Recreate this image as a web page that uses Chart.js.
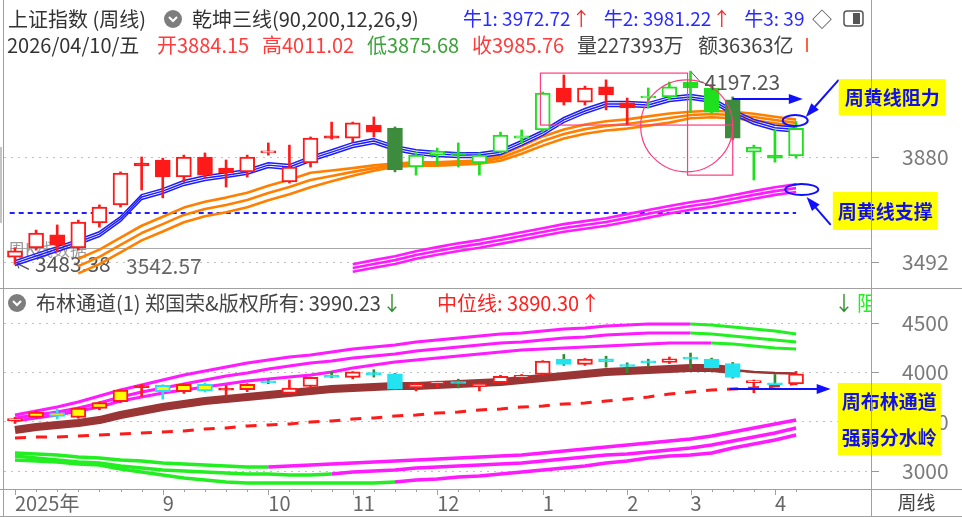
<!DOCTYPE html>
<html>
<head>
<meta charset="utf-8">
<script src="https://cdn.jsdelivr.net/npm/chart.js@4.4.1/dist/chart.umd.min.js"></script>
<style>
  html, body { margin: 0; padding: 0; background: #fff; }
  #wrap { position: relative; width: 962px; height: 517px; }
</style>
</head>
<body>
<div id="wrap"><canvas id="kline" width="962" height="517"></canvas></div>
<script>
// Weekly bars, 2025-07-18 .. 2026-04-10
const weeks = ['2025-07-18', '2025-07-25', '2025-08-01', '2025-08-08', '2025-08-15', '2025-08-22', '2025-08-29',
    '2025-09-05', '2025-09-12', '2025-09-19', '2025-09-26', '2025-09-30', '2025-10-10', '2025-10-17', '2025-10-24',
    '2025-10-31', '2025-11-07', '2025-11-14', '2025-11-21', '2025-11-28', '2025-12-05', '2025-12-12', '2025-12-19',
    '2025-12-26', '2025-12-31', '2026-01-09', '2026-01-16', '2026-01-23', '2026-01-30', '2026-02-06', '2026-02-13',
    '2026-02-27', '2026-03-06', '2026-03-13', '2026-03-20', '2026-03-27', '2026-04-03', '2026-04-10'];

const open = [3510, 3544, 3592, 3544, 3636, 3703, 3858, 3869, 3806, 3880, 3839, 3825, 3895, 3788, 3858, 3958, 3950, 3998, 3987,
    3843, 3887, 3895, 3858, 3898, 3950, 3980, 4135, 4083, 4139, 4080, 4098, 4102, 4157, 4135, 4091, 3898, 3887, 3884.15];
const high = [3545, 3610, 3629, 3647, 3703, 3825, 3880, 3876, 3887, 3895, 3869, 3887, 3932, 3924, 3954, 4009, 4009, 4028, 3991,
    3898, 3913, 3932, 3895, 3972, 3980, 4120, 4183, 4142, 4165, 4098, 4135, 4157, 4197.23, 4146, 4102, 3924, 3980, 4011.02];
const low = [3483.38, 3536, 3529, 3536, 3621, 3695, 3758, 3729, 3788, 3802, 3769, 3806, 3887, 3784, 3843, 3946, 3935, 3954, 3825,
    3813, 3850, 3843, 3813, 3895, 3932, 3972, 4072, 4072, 4054, 3998, 4061, 4091, 4043, 4043, 3943, 3795, 3861, 3875.68];
const close = [3533, 3599, 3555, 3640, 3695, 3821, 3847, 3806, 3880, 3813, 3821, 3880, 3898, 3843, 3950, 3950, 4006, 3972, 3832,
    3887, 3902, 3888, 3887, 3961, 3958, 4116, 4083, 4135, 4109, 4061, 4102, 4139, 4135, 4046, 3950, 3917, 3876, 3985.76];
const volWan = 227393, amtYi = 36363;

// 乾坤三线: blue (牛1-3), orange and magenta triples
const bull1 = [3479, 3505, 3531, 3557, 3586, 3642, 3723, 3745, 3775, 3793, 3804, 3816, 3841, 3834, 3864, 3889, 3915, 3930, 3904,
    3889, 3882, 3878, 3878, 3889, 3923, 3960, 4008, 4041, 4067, 4067, 4063, 4085, 4093, 4082, 4037, 4001, 3979, 3972.72];
const bull2 = [3488, 3514, 3540, 3566, 3595, 3651, 3732, 3754, 3784, 3802, 3813, 3825, 3850, 3843, 3873, 3898, 3924, 3939, 3913,
    3898, 3891, 3887, 3887, 3898, 3932, 3969, 4017, 4050, 4076, 4076, 4072, 4094, 4102, 4091, 4046, 4010, 3988, 3981.22];
const bull3 = [3497, 3523, 3549, 3575, 3604, 3660, 3741, 3763, 3793, 3811, 3822, 3834, 3859, 3852, 3882, 3907, 3933, 3948, 3922,
    3907, 3900, 3896, 3896, 3907, 3941, 3978, 4026, 4059, 4085, 4085, 4081, 4103, 4111, 4100, 4055, 4019, 3997, 3990];
const gold1 = [null, null, null, 3504, 3538, 3582, 3626, 3659, 3693, 3715, 3730, 3748, 3774, 3796, 3822, 3830, 3839, 3849, 3856,
    3860, 3860, 3864, 3867, 3886, 3920, 3956, 3982, 4000, 4012, 4019, 4030, 4041, 4047, 4051, 4047, 4040, 4029, 4018];
const gold2 = [null, null, null, 3477, 3511, 3555, 3599, 3632, 3666, 3688, 3703, 3721, 3747, 3769, 3795, 3810, 3825, 3839, 3850,
    3854, 3854, 3858, 3861, 3876, 3906, 3939, 3965, 3983, 3995, 4002, 4013, 4024, 4035, 4039, 4035, 4028, 4017, 4006];
const gold3 = [null, null, null, 3450, 3484, 3528, 3572, 3605, 3639, 3661, 3676, 3694, 3720, 3742, 3768, 3790, 3811, 3829, 3844,
    3848, 3848, 3852, 3855, 3866, 3892, 3922, 3948, 3966, 3978, 3985, 3996, 4007, 4023, 4027, 4023, 4016, 4005, 3994];
const pink1 = [null, null, null, null, null, null, null, null, null, null, null, null, null, null, null, null,
    3484, 3499, 3513, 3532, 3547, 3561, 3573, 3587, 3602, 3617, 3632, 3643, 3654, 3669, 3684, 3699, 3713, 3724, 3739, 3754, 3768, 3779];
const pink2 = [null, null, null, null, null, null, null, null, null, null, null, null, null, null, null, null,
    3470, 3485, 3499, 3518, 3533, 3547, 3559, 3573, 3588, 3603, 3618, 3629, 3640, 3655, 3670, 3685, 3699, 3710, 3725, 3740, 3754, 3765];
const pink3 = [null, null, null, null, null, null, null, null, null, null, null, null, null, null, null, null,
    3456, 3471, 3485, 3504, 3519, 3533, 3545, 3559, 3574, 3589, 3604, 3615, 3626, 3641, 3656, 3671, 3685, 3696, 3711, 3726, 3740, 3751];
const supportLevel = 3673;
const refLevel = 3542.57;

// 布林通道
const bollUp1 = [3569, 3610, 3650, 3701, 3762, 3823, 3873, 3924, 3975, 4015, 4056, 4096, 4127, 4157, 4177, 4208, 4238, 4259, 4279,
    4309, 4330, 4350, 4370, 4390, 4401, 4421, 4441, 4451, 4472, 4482, 4492, 4492, 4492, 4482, 4461, 4441, 4421, 4390];
const bollUp2 = [3539, 3569, 3599, 3640, 3691, 3752, 3802, 3843, 3883, 3924, 3965, 3995, 4035, 4066, 4096, 4117, 4147, 4167, 4188,
    4218, 4238, 4259, 4279, 4299, 4309, 4330, 4350, 4360, 4380, 4390, 4401, 4401, 4401, 4390, 4370, 4350, 4330, 4309];
const bollUp3 = [3508, 3539, 3569, 3610, 3650, 3711, 3752, 3792, 3823, 3853, 3883, 3914, 3934, 3954, 3975, 4005, 4046, 4076, 4106,
    4127, 4147, 4167, 4188, 4208, 4228, 4238, 4249, 4259, 4269, 4279, 4289, 4299, 4299, 4299, 4289, 4269, 4249, 4238];
const bollMid = [3417, 3447, 3468, 3488, 3518, 3569, 3610, 3650, 3681, 3711, 3731, 3752, 3772, 3792, 3812, 3833, 3843, 3853, 3863,
    3863, 3873, 3883, 3894, 3904, 3924, 3944, 3965, 3985, 4005, 4015, 4025, 4035, 4046, 4046, 4025, 4005, 3995, 3990.23];
const midLine = [3336, 3346, 3346, 3356, 3366, 3376, 3387, 3397, 3407, 3427, 3437, 3458, 3468, 3478, 3498, 3508, 3528, 3539, 3559,
    3569, 3589, 3599, 3620, 3630, 3650, 3660, 3681, 3691, 3711, 3731, 3752, 3782, 3802, 3823, 3833, 3843, 3862, 3890.30];
const bollLow1 = [3184, 3174, 3163, 3143, 3133, 3113, 3103, 3082, 3072, 3062, 3052, 3042, 3042, 3052, 3062, 3072, 3082, 3092, 3103,
    3113, 3123, 3133, 3143, 3153, 3163, 3184, 3204, 3224, 3245, 3265, 3285, 3306, 3326, 3356, 3397, 3437, 3478, 3518];
const bollLow2 = [3153, 3133, 3113, 3092, 3082, 3052, 3032, 3011, 3001, 2991, 2981, 2970, 2970, 2960, 2960, 2970, 2991, 3001, 3011,
    3032, 3042, 3052, 3062, 3072, 3082, 3103, 3123, 3143, 3163, 3174, 3194, 3214, 3234, 3265, 3306, 3346, 3387, 3437];
const bollLow3 = [3113, 3103, 3092, 3072, 3062, 3021, 2991, 2960, 2930, 2910, 2889, 2879, 2879, 2879, 2879, 2879, 2879, 2879, 2889,
    2910, 2920, 2940, 2950, 2970, 2991, 3011, 3032, 3052, 3082, 3103, 3133, 3153, 3163, 3184, 3234, 3275, 3316, 3366];

const topTicks = [3880, 3492];
const bottomTicks = [4500, 4000, 3500, 3000];

// candle colour codes (r red, g green, d dark green) and bottom panel border+fill codes
const topTone = 'rrrrrrrrrrrrrrrrrrdgggggggrrrrggggdggg'.split('');
const botTone = ['ry', 'ry', 'cy', 'ry', 'ry', 'ry', 'rr', 'cy', 'ry', 'cy', 'rr', 'ry', 'cc', 'rw', 'rw', 'cc', 'rw', 'cc', 'cc',
    'rw', 'rw', 'cc', 'rw', 'rw', 'rw', 'rw', 'cc', 'rw', 'cc', 'cc', 'cc', 'rw', 'cc', 'cc', 'cc', 'rw', 'cc', 'rw'];

const PAL = { r: '#ff1a1a', g: '#1ee01e', d: '#3d8b3d', c: '#22e3ef', y: '#ffff00', w: '#ffffff', stem: '#2e8b2e' };
const FONT = '"Noto Sans CJK SC", "Noto Sans", sans-serif';

// year label first, then month numbers where the month changes (none squeezed next to the year label)
const tickText = weeks.map((w, i) => {
    if (i === 0) return w.slice(0, 4) + '年';
    if (i < 4) return '';
    return w.slice(5, 7) !== weeks[i - 1].slice(5, 7) ? String(+w.slice(5, 7)) : '';
});

const pts = arr => arr.map((v, i) => ({ x: i, y: v }));

function line(data, color, width, axis, order, extra) {
    return Object.assign({
        type: 'line', data: pts(data), borderColor: color, borderWidth: width, pointRadius: 0,
        yAxisID: axis, order: order, tension: 0, borderJoinStyle: 'round', spanGaps: false
    }, extra || {});
}

function switchColor(from, to, at) {
    return { borderColor: ctx => ctx.p0DataIndex >= at ? to : from };
}

// top panel candles
const topCol = topTone.map(t => PAL[t]);
const topBody = {
    type: 'bar', data: weeks.map((w, i) => ({ x: i, y: [open[i], close[i]] })),
    backgroundColor: topCol.map((c, i) => close[i] >= open[i] ? '#ffffff' : c),
    borderColor: topCol, borderWidth: 2, borderSkipped: false, barThickness: 15, minBarLength: 2,
    grouped: false, yAxisID: 'y', order: 0
};
const topWick = {
    type: 'bar', data: weeks.map((w, i) => ({ x: i, y: [low[i], high[i]] })),
    backgroundColor: topCol, borderWidth: 0, barThickness: 2, grouped: false, yAxisID: 'y', order: 1
};

// bottom panel candles
const botBorder = botTone.map(t => t[0] === 'r' ? PAL.r : PAL.c);
const botFill = botTone.map(t => ({ y: PAL.y, w: PAL.w, c: PAL.c, r: PAL.r })[t[1]]);
const botBody = {
    type: 'bar', data: weeks.map((w, i) => ({ x: i, y: [open[i], close[i]] })),
    backgroundColor: botFill, borderColor: botBorder, borderWidth: 2, borderSkipped: false, barThickness: 15,
    minBarLength: 2, grouped: false, yAxisID: 'y2', order: 0
};
const botWick = {
    type: 'bar', data: weeks.map((w, i) => ({ x: i, y: [low[i], high[i]] })),
    backgroundColor: botTone.map((t, i) => t === 'cc' ? PAL.stem : botBorder[i]),
    borderWidth: 0, barThickness: 2, grouped: false, yAxisID: 'y2', order: 1
};

const datasets = [
    topBody, topWick, botBody, botWick,
    line(bull1, '#1c1cff', 1.5, 'y', 2),
    line(bull2, '#1c1cff', 1.5, 'y', 2),
    line(bull3, '#1c1cff', 1.5, 'y', 2),
    line(gold1, '#ff8000', 2.6, 'y', 3),
    line(gold2, '#ff8000', 2.6, 'y', 3),
    line(gold3, '#ff8000', 2.6, 'y', 3),
    line(pink1, '#ff1aff', 2.6, 'y', 3),
    line(pink2, '#ff1aff', 2.6, 'y', 3),
    line(pink3, '#ff1aff', 2.6, 'y', 3),
    line(bollUp1, '#ff1aff', 3, 'y2', 3, { segment: switchColor('#ff1aff', '#22ee22', 32) }),
    line(bollUp2, '#ff1aff', 3, 'y2', 3, { segment: switchColor('#ff1aff', '#22ee22', 32) }),
    line(bollUp3, '#ff1aff', 3, 'y2', 3, { segment: switchColor('#ff1aff', '#22ee22', 33) }),
    line(bollLow1, '#22ee22', 3.5, 'y2', 3, { segment: switchColor('#22ee22', '#ff1aff', 12) }),
    line(bollLow2, '#22ee22', 3.5, 'y2', 3, { segment: switchColor('#22ee22', '#ff1aff', 15) }),
    line(bollLow3, '#22ee22', 3.5, 'y2', 3, { segment: switchColor('#22ee22', '#ff1aff', 18) }),
    line(bollMid, '#993535', 8, 'y2', 2, { segment: { borderWidth: ctx => ctx.p0DataIndex >= 34 ? 2.5 : 8 } }),
    line(midLine, '#ff1a1a', 3, 'y2', 2, { borderDash: [11, 10], borderCapStyle: 'butt' })
];

// annotations placed in data units: [index, value]
const notes = {
    rectA: [24.89, 4190, 31.86, 3998],
    rectB: [31.86, 3998, 34.0, 3813],
    ring: [31.82, 3995, 2.18],
    resist: [36.96, 4015], support: [37.27, 3760],
    arrowR: [34.0, 4094, 37.32, 4094],
    arrowR2: [39.02, 4165, 37.46, 4028],
    arrowS: [38.64, 3629, 37.5, 3732],
    boxR: [39.02, 4168, '周黄线阻力'],
    boxS: [38.74, 3751, '周黄线支撑'],
    arrowB: [33.85, 3833, 38.64, 3833],
    boxB: [38.98, 3894, '周布林通道', '强弱分水岭']
};

function arrow(ctx, x1, y1, x2, y2) {
    const a = Math.atan2(y2 - y1, x2 - x1), c = Math.cos(a), s = Math.sin(a);
    ctx.beginPath(); ctx.moveTo(x1, y1); ctx.lineTo(x2 - 10 * c, y2 - 10 * s); ctx.stroke();
    ctx.beginPath();
    ctx.moveTo(x2, y2);
    ctx.lineTo(x2 - 14 * c + 5 * s, y2 - 14 * s - 5 * c);
    ctx.lineTo(x2 - 14 * c - 5 * s, y2 - 14 * s + 5 * c);
    ctx.closePath(); ctx.fill();
}

function txt(ctx, s, x, y, color, size, weight) {
    ctx.font = (weight || '') + ' ' + (size || 20) + 'px ' + FONT;
    ctx.fillStyle = color;
    ctx.fillText(s, x, y);
    return x + ctx.measureText(s).width;
}

function chevronIcon(ctx, cx, cy) {
    ctx.fillStyle = '#7d7d7d';
    ctx.beginPath(); ctx.arc(cx, cy, 9, 0, Math.PI * 2); ctx.fill();
    ctx.strokeStyle = '#fff'; ctx.lineWidth = 2;
    ctx.beginPath(); ctx.moveTo(cx - 4, cy - 2); ctx.lineTo(cx, cy + 2); ctx.lineTo(cx + 4, cy - 2); ctx.stroke();
}

// keep the plot area where the reference has it: no label overhang padding
function noPad(s) {
    s.paddingTop = 0; s.paddingBottom = 0; s.paddingLeft = 0; s.paddingRight = 0;
}

const overlay = {
    id: 'overlay',
    beforeDatasetsDraw(chart) {
        const { ctx, chartArea: a, scales: { x, y } } = chart;
        ctx.save();
        ctx.textBaseline = 'middle';
        // reference level line
        const yl = Math.round(y.getPixelForValue(refLevel)) + 0.5;
        ctx.strokeStyle = '#a8a8a8'; ctx.lineWidth = 1;
        ctx.beginPath(); ctx.moveTo(a.left + 6, yl); ctx.lineTo(a.right, yl); ctx.stroke();
        txt(ctx, '周K线数据', 8, yl + 1, '#9a9a9a', 17);
        // weekly support level (blue dashed)
        const yd = y.getPixelForValue(supportLevel);
        ctx.strokeStyle = '#2020ff'; ctx.lineWidth = 2; ctx.setLineDash([5, 4]);
        ctx.beginPath(); ctx.moveTo(x.getPixelForValue(-0.25), yd); ctx.lineTo(x.getPixelForValue(37), yd); ctx.stroke();
        ctx.setLineDash([]);
        // low marker
        const lx = x.getPixelForValue(0), ly = y.getPixelForValue(low[0]);
        ctx.strokeStyle = '#555'; ctx.lineWidth = 1.2;
        ctx.beginPath(); ctx.moveTo(lx + 14, ly + 5); ctx.lineTo(lx + 2, ly - 1); ctx.stroke();
        ctx.beginPath(); ctx.moveTo(lx + 2, ly - 1); ctx.lineTo(lx + 7, ly - 1); ctx.moveTo(lx + 2, ly - 1); ctx.lineTo(lx + 4, ly + 4); ctx.stroke();
        txt(ctx, low[0].toFixed(2), lx + 20, ly, '#555', 21);
        txt(ctx, refLevel.toFixed(2), 126, ly + 2, '#666', 21);
        ctx.restore();
    },
    afterDraw(chart) {
        const { ctx, chartArea: a, scales: { x, y, y2 } } = chart;
        const W = chart.width, H = chart.height;
        const P = (i, v) => [x.getPixelForValue(i), y.getPixelForValue(v)];
        const P2 = (i, v) => [x.getPixelForValue(i), y2.getPixelForValue(v)];
        ctx.save();
        ctx.textBaseline = 'middle';

        // pink study drawings
        ctx.strokeStyle = '#ff3d7f'; ctx.lineWidth = 1.2;
        [notes.rectA, notes.rectB].forEach(r => {
            const [x1, y1] = P(r[0], r[1]), [x2, y2p] = P(r[2], r[3]);
            ctx.strokeRect(x1, y1, x2 - x1, y2p - y1);
        });
        const [cx, cy] = P(notes.ring[0], notes.ring[1]);
        const rr = x.getPixelForValue(notes.ring[2]) - x.getPixelForValue(0);
        ctx.beginPath(); ctx.arc(cx, cy, rr, 0, Math.PI * 2); ctx.stroke();

        // high label
        const [hx, hy] = P(32, high[32]);
        ctx.strokeStyle = '#555'; ctx.lineWidth = 1;
        ctx.beginPath(); ctx.moveTo(hx + 1, hy + 1); ctx.lineTo(hx + 10, hy + 11); ctx.lineTo(hx + 13, hy + 11); ctx.stroke();
        txt(ctx, high[32].toFixed(2), hx + 14, hy + 11, '#555', 21);

        // blue arrows and ellipses
        ctx.strokeStyle = '#1010ff'; ctx.fillStyle = '#1010ff'; ctx.lineWidth = 2;
        [notes.arrowR, notes.arrowR2, notes.arrowS].forEach(n => {
            const [x1, y1] = P(n[0], n[1]), [x2, y2p] = P(n[2], n[3]);
            arrow(ctx, x1, y1, x2, y2p);
        });
        {
            const [x1, y1] = P2(notes.arrowB[0], notes.arrowB[1]), [x2, y2p] = P2(notes.arrowB[2], notes.arrowB[3]);
            arrow(ctx, x1, y1, x2, y2p);
        }
        [[notes.resist, 12.5], [notes.support, 16.5]].forEach(([n, rx]) => {
            const [ex, ey] = P(n[0], n[1]);
            ctx.beginPath(); ctx.ellipse(ex, ey, rx, 5.5, 0, 0, Math.PI * 2); ctx.stroke();
        });

        // yellow callouts
        const box = (bx, by, w, h, lines) => {
            ctx.fillStyle = '#ffff00';
            ctx.fillRect(bx, by, w, h);
            ctx.textAlign = 'center';
            lines.forEach((s, k) => txt(ctx, s, bx + w / 2, by + (k + 0.5) * h / lines.length + 1, '#1010ee', 19, 'bold'));
            ctx.textAlign = 'left';
        };
        { const [bx, by] = P(notes.boxR[0], notes.boxR[1]); box(bx, by, 107, 36, [notes.boxR[2]]); }
        { const [bx, by] = P(notes.boxS[0], notes.boxS[1]); box(bx, by, 105, 38, [notes.boxS[2]]); }
        { const [bx, by] = P2(notes.boxB[0], notes.boxB[1]); box(bx, by, 103, 72, [notes.boxB[2], notes.boxB[3]]); }

        // x axis tick marks (weekly, taller at month starts)
        ctx.strokeStyle = '#a0a0a0'; ctx.lineWidth = 1;
        weeks.forEach((w, i) => {
            const tx = Math.round(x.getPixelForValue(i)) + 0.5;
            ctx.beginPath(); ctx.moveTo(tx, a.bottom); ctx.lineTo(tx, a.bottom + (tickText[i] ? 6 : 3)); ctx.stroke();
        });

        // frame lines
        const hline = (yy, x1, x2) => { ctx.beginPath(); ctx.moveTo(x1, yy + 0.5); ctx.lineTo(x2, yy + 0.5); ctx.stroke(); };
        const vline = (xx, y1, y2p) => { ctx.beginPath(); ctx.moveTo(xx + 0.5, y1); ctx.lineTo(xx + 0.5, y2p); ctx.stroke(); };
        const panelSplit = Math.round(y.bottom);
        hline(panelSplit, 0, W);
        hline(Math.round(a.bottom), 0, W);
        hline(H - 1, 0, W);
        vline(3, 0, H);
        vline(Math.round(a.right), 0, H);
        ctx.fillStyle = '#c4c4c4'; ctx.fillRect(0, 147, 2, 76);

        // top header
        let cur;
        txt(ctx, '上证指数 (周线)', 8, 19, '#333');
        chevronIcon(ctx, 173, 19);
        txt(ctx, '乾坤三线(90,200,12,26,9)', 192, 19, '#333');
        cur = txt(ctx, '牛1: ' + bull1[37].toFixed(2), 463, 19, '#2a2aff', 19);
        cur = txt(ctx, '↑', cur + 1, 19, '#ff2020', 19);
        cur = txt(ctx, '牛2: ' + bull2[37].toFixed(2), Math.max(592, cur + 13), 19, '#2a2aff', 19);
        cur = txt(ctx, '↑', cur + 1, 19, '#ff2020', 19);
        txt(ctx, '牛3: ' + String(bull3[37]).slice(0, 2), Math.max(743, cur + 13), 19, '#2a2aff', 19);
        txt(ctx, '◇', 812, 19, '#555');
        ctx.strokeStyle = '#555'; ctx.lineWidth = 1.5;
        ctx.beginPath(); ctx.roundRect(844, 11, 19, 15, 3); ctx.stroke();
        ctx.fillStyle = '#555'; ctx.fillRect(853, 13, 7, 11);

        txt(ctx, weeks[37].replace(/-/g, '/') + '/五', 7, 45, '#333');
        txt(ctx, '开' + open[37].toFixed(2), 157, 45, '#ff3b3b');
        txt(ctx, '高' + high[37].toFixed(2), 262, 45, '#ff3b3b');
        txt(ctx, '低' + low[37].toFixed(2), 367, 45, '#3aa33a');
        txt(ctx, '收' + close[37].toFixed(2), 472, 45, '#ff3b3b');
        txt(ctx, '量' + volWan + '万', 577, 45, '#444');
        txt(ctx, '额' + amtYi + '亿', 698, 45, '#444');
        ctx.fillStyle = '#ff6040'; ctx.fillRect(806, 38, 2, 14);

        // bottom header
        const hy2 = panelSplit + 15;
        chevronIcon(ctx, 17, hy2);
        cur = txt(ctx, '布林通道(1) 郑国荣&版权所有: ' + bollMid[37].toFixed(2), 36, hy2, '#444');
        txt(ctx, '↓', cur + 1, hy2, '#2e8b2e');
        cur = txt(ctx, '中位线: ' + midLine[37].toFixed(2), 437, hy2, '#ff2020');
        txt(ctx, '↑', cur + 1, hy2, '#ff2020');
        txt(ctx, '↓', 834, hy2, '#2e8b2e');
        ctx.save();
        ctx.beginPath(); ctx.rect(0, 0, a.right, H); ctx.clip();
        txt(ctx, '阻', 857, hy2, '#22ee22');
        ctx.restore();

        // period label box
        ctx.textAlign = 'center';
        txt(ctx, '周线', (a.right + W) / 2, (a.bottom + H) / 2, '#444', 19);
        ctx.restore();
    }
};

new Chart(document.getElementById('kline'), {
    type: 'bar',
    data: { datasets: datasets },
    options: {
        responsive: false,
        animation: false,
        events: [],
        layout: { padding: { left: 4, top: 0, right: 0, bottom: 0 } },
        plugins: { legend: { display: false }, tooltip: { enabled: false } },
        scales: {
            x: {
                type: 'linear', offset: false, min: -0.52, max: 40.55, position: 'bottom',
                afterBuildTicks: s => { s.ticks = weeks.map((w, i) => ({ value: i })); },
                afterFit: s => { s.height = 28; noPad(s); },
                ticks: {
                    callback: v => tickText[v] || '', autoSkip: false, maxRotation: 0, minRotation: 0,
                    align: 'start', padding: 2, color: '#666', font: { family: FONT, size: 20 }
                },
                grid: { display: false, drawTicks: false, offset: false },
                border: { display: false }
            },
            y: {
                type: 'linear', position: 'right', stack: 'panels', stackWeight: 288,
                min: 3396.0, max: 4460.1,
                afterBuildTicks: s => { s.ticks = topTicks.map(v => ({ value: v })); },
                afterFit: s => { s.width = 91; noPad(s); },
                ticks: { padding: 23, color: '#7a7a7a', font: { family: FONT, size: 21 }, callback: v => String(v) },
                grid: { color: '#c0c0c0', tickColor: '#999', tickLength: 8, tickBorderDash: [], borderDash: [2, 5] },
                border: { display: false, dash: [2, 5] }
            },
            y2: {
                type: 'linear', position: 'right', stack: 'panels', stackWeight: 201,
                min: 2818.7, max: 4856.8,
                afterBuildTicks: s => { s.ticks = bottomTicks.map(v => ({ value: v })); },
                afterFit: s => { s.width = 91; noPad(s); },
                ticks: { padding: 23, color: '#7a7a7a', font: { family: FONT, size: 21 }, callback: v => String(v) },
                grid: { color: '#c0c0c0', tickColor: '#999', tickLength: 8, tickBorderDash: [], borderDash: [2, 5] },
                border: { display: false, dash: [2, 5] }
            }
        }
    },
    plugins: [overlay]
});
</script>
</body>
</html>
